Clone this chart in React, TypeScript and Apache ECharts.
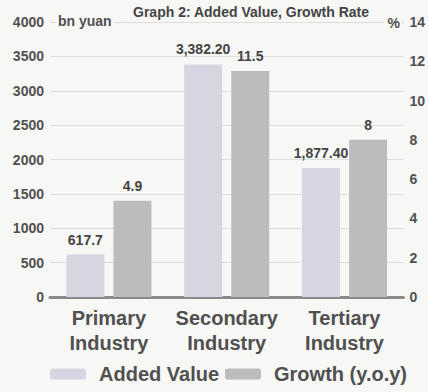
import React, { useEffect, useRef } from "react";
import * as echarts from "echarts";

const categories = ["Primary\nIndustry", "Secondary\nIndustry", "Tertiary\nIndustry"];
const addedValue = [617.7, 3382.2, 1877.4];
const addedValueLabels = ["617.7", "3,382.20", "1,877.40"];
const growth = [4.9, 11.5, 8];
const growthLabels = ["4.9", "11.5", "8"];

const FONT = "'Liberation Sans', Arial, sans-serif";
const TEXT = "#505050";
const BG = "#f7f7f5";

export default function App() {
  const ref = useRef<HTMLDivElement>(null);
  useEffect(() => {
    if (!ref.current) return;
    const chart = echarts.init(ref.current, null, { renderer: "svg" });
    chart.setOption({
      animation: false,
      backgroundColor: BG,
      textStyle: { fontFamily: FONT },
      title: {
        text: "Graph 2: Added Value, Growth Rate",
        left: 246,
        textAlign: "center",
        top: 0,
        textStyle: { fontSize: 14, fontWeight: "bold", color: "#444", fontFamily: FONT },
      },
      graphic: [
        {
          type: "text",
          left: 56,
          top: 14,
          z: 100,
          style: {
            text: "bn yuan",
            fontSize: 14,
            fontWeight: "bold",
            fill: TEXT,
            fontFamily: FONT,
            backgroundColor: BG,
            padding: [0, 2, 0, 2],
          },
        },
        {
          type: "text",
          right: 26,
          top: 16,
          z: 100,
          style: {
            text: "%",
            fontSize: 14,
            fontWeight: "bold",
            fill: TEXT,
            fontFamily: FONT,
            backgroundColor: BG,
            padding: [0, 2, 0, 4],
          },
        },
      ],
      legend: {
        bottom: 3,
        left: 45,
        itemWidth: 36,
        itemHeight: 11,
        itemGap: 6,
        textStyle: {
          fontSize: 20,
          fontWeight: "bold",
          color: TEXT,
          fontFamily: FONT,
          padding: [0, 0, 0, 8],
        },
        data: ["Added Value", "Growth (y.o.y)"],
      },
      grid: { left: 50, right: 23, top: 22, bottom: 95 },
      xAxis: {
        type: "category",
        data: categories,
        axisLine: { lineStyle: { color: "#8a8a8a", width: 3 } },
        axisTick: { show: false },
        axisLabel: {
          interval: 0,
          fontSize: 20,
          fontWeight: "bold",
          color: TEXT,
          lineHeight: 25,
          margin: 8,
          fontFamily: FONT,
        },
      },
      yAxis: [
        {
          type: "value",
          min: 0,
          max: 4000,
          interval: 500,
          axisLine: { show: false },
          axisTick: { show: false },
          axisLabel: {
            fontSize: 14,
            fontWeight: "bold",
            color: TEXT,
            margin: 6,
            fontFamily: FONT,
            formatter: (v: number) => String(v),
          },
          splitLine: { lineStyle: { color: "#dedede", width: 1 } },
        },
        {
          type: "value",
          min: 0,
          max: 14,
          interval: 2,
          axisLine: { show: false },
          axisTick: { show: false },
          axisLabel: { fontSize: 14, fontWeight: "bold", color: TEXT, margin: 6, fontFamily: FONT },
          splitLine: { show: false },
        },
      ],
      series: [
        {
          name: "Added Value",
          type: "bar",
          yAxisIndex: 0,
          data: addedValue,
          barWidth: 38,
          barGap: "24%",
          itemStyle: { color: "#d6d6e2" },
          label: {
            show: true,
            position: "top",
            distance: 8,
            fontSize: 14,
            fontWeight: "bold",
            color: "#444",
            fontFamily: FONT,
            formatter: (p: any) => addedValueLabels[p.dataIndex],
          },
        },
        {
          name: "Growth (y.o.y)",
          type: "bar",
          yAxisIndex: 1,
          data: growth,
          barWidth: 38,
          itemStyle: { color: "#bcbcbc" },
          label: {
            show: true,
            position: "top",
            distance: 8,
            fontSize: 14,
            fontWeight: "bold",
            color: "#444",
            fontFamily: FONT,
            formatter: (p: any) => growthLabels[p.dataIndex],
          },
        },
      ],
    });
    return () => chart.dispose();
  }, []);
  return (
    <div
      ref={ref}
      style={{ position: "fixed", left: 0, top: 0, width: 428, height: 392 }}
    />
  );
}
